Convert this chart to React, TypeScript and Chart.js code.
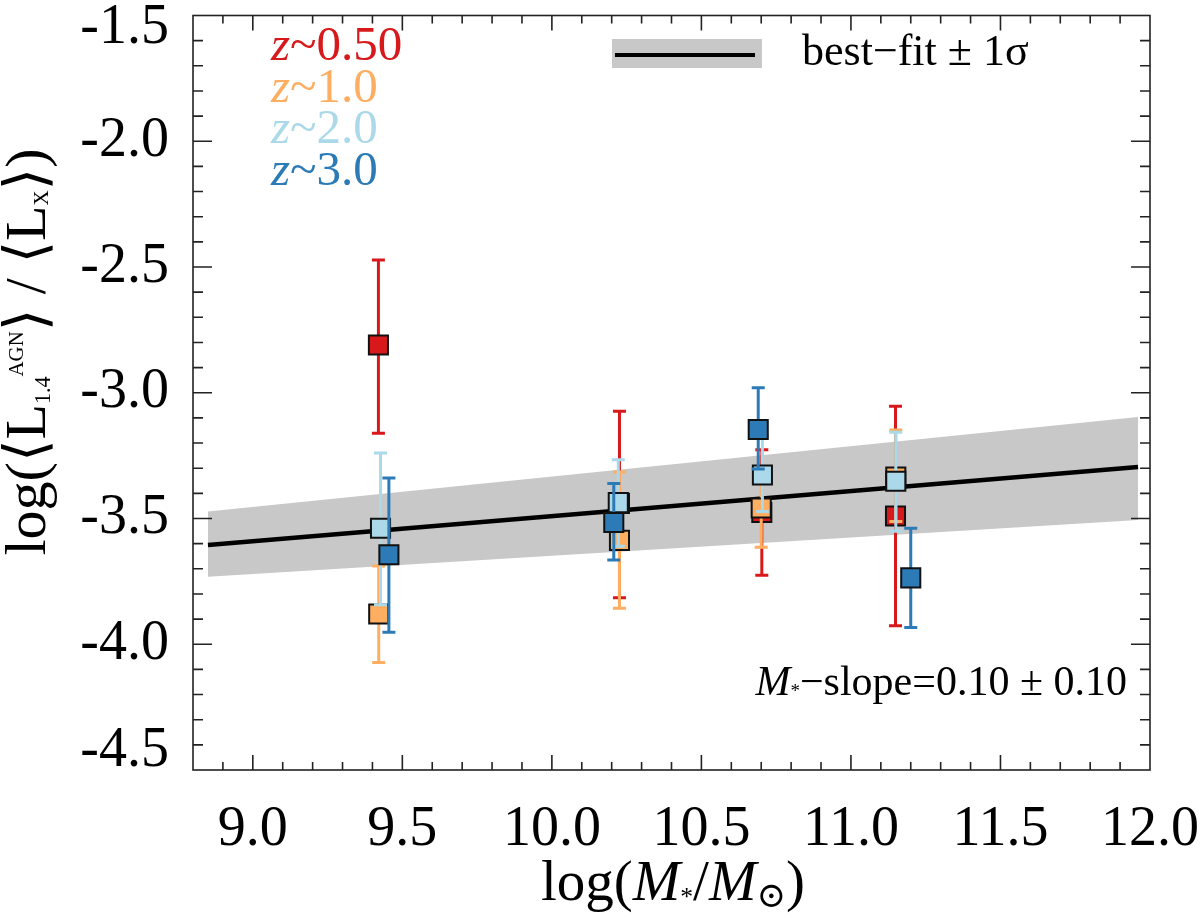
import React, { useEffect, useRef } from 'react';
import { Chart, registerables } from 'chart.js';

Chart.register(...registerables);

const FONT = "'Liberation Serif', 'DejaVu Serif', serif";

// ---- Data ----
const seriesLabels = ['~0.50', '~1.0', '~2.0', '~3.0'];
const seriesColors = ['#d7191c', '#fdae61', '#abd9e9', '#2c7bb6'];

const redX = [9.42, 10.226, 10.702, 11.149];
const redY = [-2.81, -3.44, -3.476, -3.49];
const redHi = [-2.472, -3.074, -3.227, -3.054];
const redLo = [-3.161, -3.815, -3.726, -3.926];

const orangeX = [9.421, 10.226, 10.7, 11.15];
const orangeY = [-3.88, -3.587, -3.458, -3.335];
const orangeHi = [-3.689, -3.315, -3.3, -3.148];
const orangeLo = [-4.073, -3.857, -3.614, -3.512];

const lblueX = [9.427, 10.222, 10.704, 11.15];
const lblueY = [-3.539, -3.437, -3.327, -3.352];
const lblueHi = [-3.24, -3.266, -3.17, -3.157];
const lblueLo = [-3.843, -3.61, -3.472, -3.551];

const blueX = [9.455, 10.207, 10.69, 11.2];
const blueY = [-3.644, -3.516, -3.146, -3.736];
const blueHi = [-3.339, -3.361, -2.98, -3.539];
const blueLo = [-3.952, -3.665, -3.303, -3.933];

const fitX = [8.85, 11.96];
const fitY = [-3.605, -3.295];
const bandHi = [-3.472, -3.096];
const bandLo = [-3.732, -3.506];

const xTicks = [9.0, 9.5, 10.0, 10.5, 11.0, 11.5, 12.0];
const yTicks = [-4.5, -4.0, -3.5, -3.0, -2.5, -2.0, -1.5];
const xRange = [8.8, 12.0];
const yRange = [-4.5, -1.5];

const slopeText = '\u2212slope=0.10 \u00b1 0.10';
const fitLegendText = 'best\u2212fit \u00b1 1\u03c3';

// ---- helpers ----
type Seg = { t: string; s?: number; dy?: number; it?: boolean };

function segFont(size: number, seg: Seg) {
  return `${seg.it ? 'italic ' : ''}${size * (seg.s ?? 1)}px ${FONT}`;
}
function richWidth(ctx: CanvasRenderingContext2D, segs: Seg[], size: number) {
  let w = 0;
  for (const sg of segs) {
    ctx.font = segFont(size, sg);
    w += ctx.measureText(sg.t).width;
  }
  return w;
}
function drawRich(
  ctx: CanvasRenderingContext2D,
  segs: Seg[],
  x: number,
  y: number,
  size: number,
  color: string,
  align: 'left' | 'center' | 'right'
) {
  const w = richWidth(ctx, segs, size);
  let cx = align === 'left' ? x : align === 'center' ? x - w / 2 : x - w;
  ctx.fillStyle = color;
  ctx.textAlign = 'left';
  ctx.textBaseline = 'alphabetic';
  for (const sg of segs) {
    ctx.font = segFont(size, sg);
    ctx.fillText(sg.t, cx, y + (sg.dy ?? 0) * size);
    cx += ctx.measureText(sg.t).width;
  }
}

const pts = (xs: number[], ys: number[]) => xs.map((x, i) => ({ x, y: ys[i] }));

const errorBarPlugin = {
  id: 'errorBars',
  beforeDatasetDraw(chart: any, args: any) {
    const ds = chart.data.datasets[args.index];
    if (!ds.errHi) return;
    const ctx: CanvasRenderingContext2D = chart.ctx;
    const xs = chart.scales.x;
    const ys = chart.scales.y;
    ctx.save();
    ctx.strokeStyle = ds.barColor;
    ctx.lineWidth = 3;
    ds.data.forEach((p: any, i: number) => {
      const px = xs.getPixelForValue(p.x);
      const yh = ys.getPixelForValue(ds.errHi[i]);
      const yl = ys.getPixelForValue(ds.errLo[i]);
      ctx.beginPath();
      ctx.moveTo(px, yh);
      ctx.lineTo(px, yl);
      ctx.moveTo(px - 6.5, yh);
      ctx.lineTo(px + 6.5, yh);
      ctx.moveTo(px - 6.5, yl);
      ctx.lineTo(px + 6.5, yl);
      ctx.stroke();
    });
    ctx.restore();
  },
};

const decorPlugin = {
  id: 'decor',
  afterDraw(chart: any) {
    const ctx: CanvasRenderingContext2D = chart.ctx;
    const { left, right, top, bottom } = chart.chartArea;
    const xs = chart.scales.x;
    const ys = chart.scales.y;
    ctx.save();
    // frame
    ctx.strokeStyle = '#222';
    ctx.lineWidth = 1.6;
    ctx.strokeRect(left, top, right - left, bottom - top);
    // ticks on all four sides, pointing inward
    ctx.beginPath();
    for (let k = Math.round(xRange[0] * 10) + 1; k < Math.round(xRange[1] * 10); k++) {
      const v = k / 10;
      const major = k % 5 === 0;
      const len = major ? 15 : 8;
      const px = xs.getPixelForValue(v);
      ctx.moveTo(px, bottom);
      ctx.lineTo(px, bottom - len);
      ctx.moveTo(px, top);
      ctx.lineTo(px, top + len);
    }
    for (let k = Math.round(yRange[0] * 10) + 1; k < Math.round(yRange[1] * 10); k++) {
      const v = k / 10;
      const major = Math.abs(k) % 5 === 0;
      const len = major ? 19 : 10;
      const py = ys.getPixelForValue(v);
      ctx.moveTo(left, py);
      ctx.lineTo(left + len, py);
      ctx.moveTo(right, py);
      ctx.lineTo(right - len, py);
    }
    ctx.stroke();

    // redshift legend
    seriesLabels.forEach((lab, i) => {
      drawRich(ctx, [{ t: 'z', it: true }, { t: lab }], 271, 60 + i * 41.7, 49, seriesColors[i], 'left');
    });

    // best-fit legend
    ctx.fillStyle = '#c8c8c8';
    ctx.fillRect(612, 39, 150, 29);
    ctx.strokeStyle = '#000';
    ctx.lineWidth = 4;
    ctx.beginPath();
    ctx.moveTo(615, 55);
    ctx.lineTo(755, 55);
    ctx.stroke();
    drawRich(ctx, [{ t: fitLegendText }], 802, 65, 44, '#000', 'left');

    // slope annotation
    drawRich(
      ctx,
      [{ t: 'M', it: true }, { t: '*', s: 0.45, dy: 0.05 }, { t: slopeText }],
      1127,
      695,
      42,
      '#000',
      'right'
    );

    // x title
    drawRich(
      ctx,
      [
        { t: 'log(' },
        { t: 'M', it: true },
        { t: '*', s: 0.45, dy: 0.08 },
        { t: '/' },
        { t: 'M', it: true },
        { t: '\u2299', s: 0.62, dy: 0.12 },
        { t: ')' },
      ],
      673,
      900,
      57,
      '#000',
      'center'
    );

    // y title (rotated)
    ctx.translate(45, 352);
    ctx.rotate(-Math.PI / 2);
    drawRich(
      ctx,
      [
        { t: 'log(\u27e8L' },
        { t: '1.4', s: 0.38, dy: 0.09 },
        { t: 'AGN', s: 0.36, dy: -0.38 },
        { t: '\u27e9 / \u27e8L' },
        { t: 'X', s: 0.36, dy: 0.05 },
        { t: '\u27e9)' },
      ],
      0,
      0,
      58,
      '#000',
      'center'
    );
    ctx.restore();
  },
};

export default function App() {
  const ref = useRef<HTMLCanvasElement | null>(null);

  useEffect(() => {
    if (!ref.current) return;
    const mk = (xs: number[], ys: number[], hi: number[], lo: number[], color: string, order: number) => ({
      type: 'scatter' as const,
      data: pts(xs, ys),
      errHi: hi,
      errLo: lo,
      barColor: color,
      pointStyle: 'rect',
      pointRadius: 13.5,
      pointHoverRadius: 13.5,
      backgroundColor: color,
      borderColor: '#111',
      borderWidth: 2,
      order,
    });

    const chart = new Chart(ref.current, {
      type: 'scatter',
      data: {
        datasets: [
          {
            type: 'line',
            data: pts(fitX, bandHi),
            borderWidth: 0,
            pointRadius: 0,
            fill: false,
            order: 100,
          } as any,
          {
            type: 'line',
            data: pts(fitX, bandLo),
            borderWidth: 0,
            pointRadius: 0,
            fill: '-1',
            backgroundColor: '#c8c8c8',
            order: 99,
          } as any,
          {
            type: 'line',
            data: pts(fitX, fitY),
            borderColor: '#000',
            borderWidth: 4.5,
            pointRadius: 0,
            fill: false,
            order: 50,
          } as any,
          mk(redX, redY, redHi, redLo, seriesColors[0], 4) as any,
          mk(orangeX, orangeY, orangeHi, orangeLo, seriesColors[1], 3) as any,
          mk(lblueX, lblueY, lblueHi, lblueLo, seriesColors[2], 2) as any,
          mk(blueX, blueY, blueHi, blueLo, seriesColors[3], 1) as any,
        ],
      },
      options: {
        animation: false,
        responsive: false,
        devicePixelRatio: 1,
        layout: { padding: { left: 0, right: 50, top: 8, bottom: 0 } },
        plugins: { legend: { display: false }, tooltip: { enabled: false } },
        scales: {
          x: {
            type: 'linear',
            position: 'bottom',
            min: xRange[0],
            max: xRange[1],
            grid: { display: false },
            border: { display: false },
            afterBuildTicks: (s: any) => {
              s.ticks = xTicks.map((v) => ({ value: v }));
            },
            afterFit: (s: any) => {
              s.height = 148;
              s.paddingLeft = 0;
              s.paddingRight = 0;
            },
            ticks: {
              autoSkip: false,
              maxRotation: 0,
              minRotation: 0,
              padding: 19,
              color: '#000',
              font: { family: FONT, size: 56 },
              callback: (v: any) => Number(v).toFixed(1),
            },
          },
          y: {
            type: 'linear',
            min: yRange[0],
            max: yRange[1],
            grid: { display: false },
            border: { display: false },
            afterBuildTicks: (s: any) => {
              s.ticks = yTicks.map((v) => ({ value: v }));
            },
            afterFit: (s: any) => {
              s.width = 193;
              s.paddingTop = 0;
              s.paddingBottom = 0;
            },
            ticks: {
              autoSkip: false,
              padding: 16,
              color: '#000',
              font: (c: any) => {
                const v = c.tick ? c.tick.value : 0;
                if (v === yRange[1]) return { family: FONT, size: 56, lineHeight: '26px' };
                if (v === yRange[0]) return { family: FONT, size: 56, lineHeight: '37px' };
                return { family: FONT, size: 56 };
              },
              callback: (v: any) => {
                const n = Number(v);
                const s = n.toFixed(1);
                if (n === yRange[1]) return ['', s];
                if (n === yRange[0]) return [s, ''];
                return s;
              },
            },
          },
        },
      } as any,
      plugins: [errorBarPlugin, decorPlugin],
    });
    return () => chart.destroy();
  }, []);

  return (
    <div style={{ position: 'fixed', left: 0, top: 0, width: 1200, height: 918, background: '#fff' }}>
      <canvas ref={ref} width={1200} height={918} style={{ width: 1200, height: 918 }} />
    </div>
  );
}
